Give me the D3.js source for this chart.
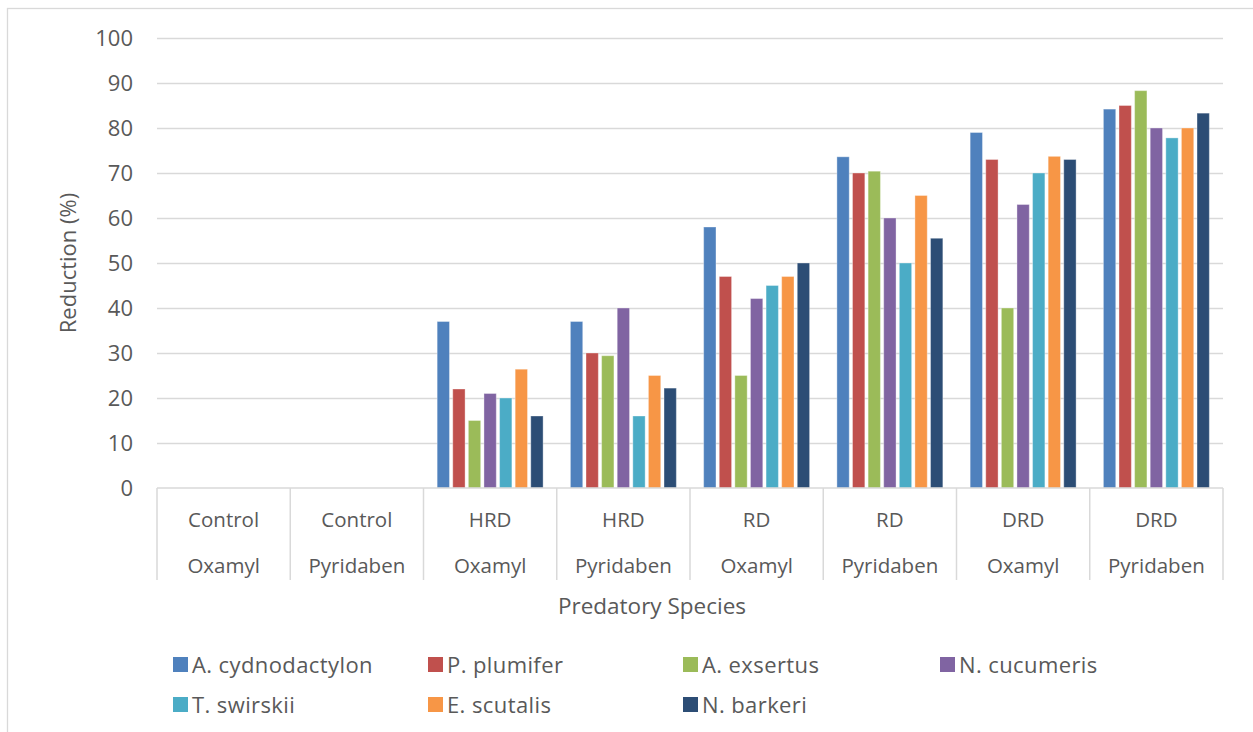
<!DOCTYPE html>
<html>
<head>
<meta charset="utf-8">
<script src="https://cdn.jsdelivr.net/npm/d3@7"></script>
<style>
  html, body { margin: 0; padding: 0; background: #fff; }
  svg { display: block; }
  text { font-family: "Open Sans", sans-serif; fill: #595959; }
</style>
</head>
<body>
<svg id="chart" width="1253" height="732"></svg>
<script>
// ---- Data ----
const groupTop = ["Control", "Control", "HRD", "HRD", "RD", "RD", "DRD", "DRD"];
const groupBottom = ["Oxamyl", "Pyridaben", "Oxamyl", "Pyridaben", "Oxamyl", "Pyridaben", "Oxamyl", "Pyridaben"];
const seriesNames = ["A. cydnodactylon", "P. plumifer", "A. exsertus", "N. cucumeris", "T. swirskii", "E. scutalis", "N. barkeri"];
const seriesColors = ["#4F81BD", "#C0504D", "#9BBB59", "#8064A2", "#4BACC6", "#F79646", "#2C4D75"];
const aCydnodactylon = [0, 0, 37, 37, 58, 73.6, 79, 84.2];
const pPlumifer      = [0, 0, 22, 30, 47, 70, 73, 85];
const aExsertus      = [0, 0, 15, 29.4, 25, 70.4, 40, 88.3];
const nCucumeris     = [0, 0, 21, 40, 42.1, 60, 63, 80];
const tSwirskii      = [0, 0, 20, 16, 45, 50, 70, 77.8];
const eScutalis      = [0, 0, 26.4, 25, 47, 65, 73.7, 80];
const nBarkeri       = [0, 0, 16, 22.2, 50, 55.5, 73, 83.3];
const seriesValues = [aCydnodactylon, pPlumifer, aExsertus, nCucumeris, tSwirskii, eScutalis, nBarkeri];
const yTicks = [0, 10, 20, 30, 40, 50, 60, 70, 80, 90, 100];
const yTitle = "Reduction (%)";
const xTitle = "Predatory Species";

(function () {
// ---- Layout ----
const svg = d3.select("#chart");
const pLeft = 157, pRight = 1223, pTop = 38, pBottom = 488;
const gridColor = "#D9D9D9";

// outer chart border
svg.append("rect").attr("x", 7.5).attr("y", 8.5).attr("width", 1260).attr("height", 740)
  .attr("fill", "none").attr("stroke", gridColor).attr("stroke-width", 1.3);

const x0 = d3.scaleBand().domain(d3.range(groupTop.length)).range([pLeft, pRight]).padding(0);
const x1 = d3.scaleBand().domain(d3.range(seriesNames.length)).range([0, x0.bandwidth()])
  .paddingInner(0.21).paddingOuter(0.875);
const y = d3.scaleLinear().domain([0, 100]).range([pBottom, pTop]);

// gridlines
const yAxis = d3.axisLeft(y).tickValues(yTicks).tickSize(-(pRight - pLeft)).tickPadding(24);
const gy = svg.append("g").attr("transform", `translate(${pLeft},0)`).call(yAxis);
gy.select(".domain").remove();
gy.selectAll(".tick line").attr("stroke", gridColor).attr("stroke-width", 1.5)
  .filter(d => d === 0).remove();
gy.selectAll(".tick text").attr("font-size", 22).attr("fill", "#595959")
  .style("font-family", "'Open Sans', sans-serif");

// bars
const groups = svg.append("g").selectAll("g").data(d3.range(groupTop.length)).join("g")
  .attr("transform", i => `translate(${x0(i)},0)`);
groups.selectAll("rect").data(i => seriesValues.map((vals, s) => ({ s, v: vals[i] })))
  .join("rect")
  .attr("x", d => x1(d.s))
  .attr("width", x1.bandwidth())
  .attr("y", d => y(d.v))
  .attr("height", d => y(0) - y(d.v))
  .attr("fill", d => seriesColors[d.s])
  .attr("stroke", "#ffffff").attr("stroke-opacity", 0.35).attr("stroke-width", 1);

// category axis
const catBottom = 580;
svg.append("line").attr("x1", pLeft).attr("x2", pRight).attr("y1", pBottom).attr("y2", pBottom)
  .attr("stroke", gridColor).attr("stroke-width", 1.5);
const bounds = d3.range(groupTop.length).map(i => x0(i)).concat([pRight]);
svg.append("g").selectAll("line").data(bounds).join("line")
  .attr("x1", d => d).attr("x2", d => d).attr("y1", pBottom).attr("y2", catBottom)
  .attr("stroke", gridColor).attr("stroke-width", 1.5);
const cat = svg.append("g");
cat.selectAll("text.top").data(groupTop).join("text").attr("class", "top")
  .attr("x", (d, i) => x0(i) + x0.bandwidth() / 2).attr("y", 527)
  .attr("text-anchor", "middle").attr("font-size", 20.5).text(d => d);
cat.selectAll("text.bot").data(groupBottom).join("text").attr("class", "bot")
  .attr("x", (d, i) => x0(i) + x0.bandwidth() / 2).attr("y", 573)
  .attr("text-anchor", "middle").attr("font-size", 20.5).text(d => d);

// axis titles
svg.append("text").attr("transform", "translate(76,263) rotate(-90)")
  .attr("text-anchor", "middle").attr("font-size", 22).text(yTitle);
svg.append("text").attr("x", 652).attr("y", 614)
  .attr("text-anchor", "middle").attr("font-size", 22.5).text(xTitle);

// legend
const legCols = [173, 428, 683, 940];
const legRows = [657, 697];
const leg = svg.append("g").selectAll("g").data(seriesNames).join("g")
  .attr("transform", (d, i) => `translate(${legCols[i % 4]},${legRows[Math.floor(i / 4)]})`);
leg.append("rect").attr("width", 15).attr("height", 15).attr("fill", (d, i) => seriesColors[i]);
leg.append("text").attr("x", 19).attr("y", 15.5).attr("font-size", 22)
  .attr("letter-spacing", 0.4).text(d => d);
})();
</script>
</body>
</html>
